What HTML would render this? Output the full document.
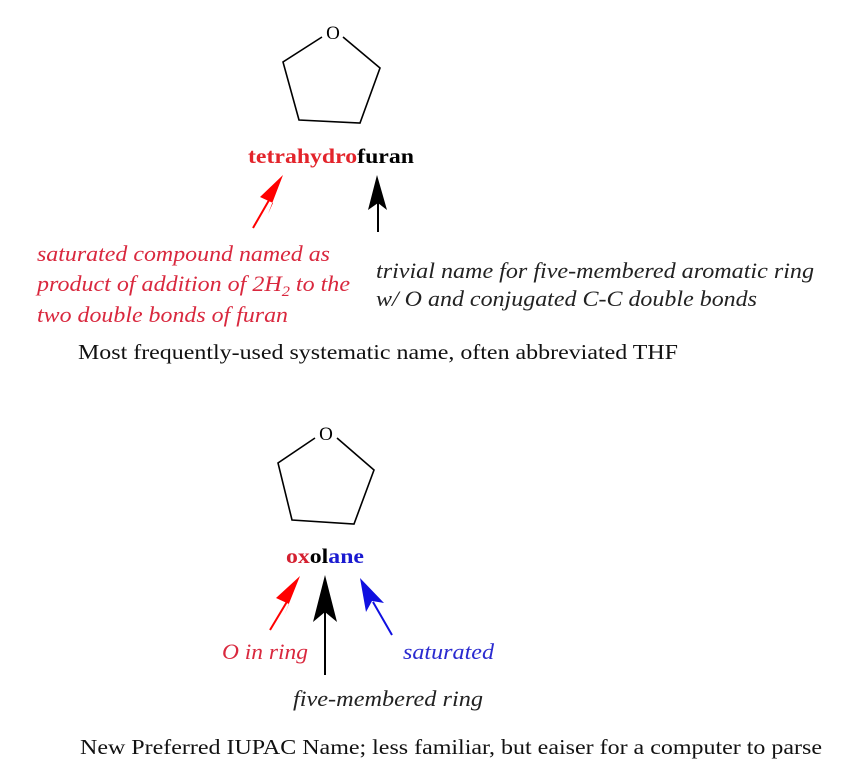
<!DOCTYPE html>
<html><head><meta charset="utf-8"><style>
html,body{margin:0;padding:0;background:#fff;width:861px;height:783px;overflow:hidden}
svg{display:block}
text{font-family:"Liberation Serif","Times New Roman",serif}
.it{font-style:italic;font-size:22px}
</style></head><body>
<svg width="861" height="783" viewBox="0 0 861 783" xmlns="http://www.w3.org/2000/svg">
<g fill="none" stroke="#000" stroke-width="1.6">
<polyline points="322,37 283,62 299,120 360,123 380,68 343,37"/>
<polyline points="315,438 278,463 292,520 354,524 374,470 337,438"/>
</g>
<text x="333" y="39" font-size="19" text-anchor="middle">O</text>
<text x="326" y="440" font-size="19" text-anchor="middle">O</text>

<text x="248" y="163" font-size="21" font-weight="bold" textLength="166" lengthAdjust="spacingAndGlyphs"><tspan fill="#e3242b">tetrahydro</tspan><tspan fill="#000">furan</tspan></text>
<text x="286" y="563" font-size="21" font-weight="bold" textLength="78" lengthAdjust="spacingAndGlyphs"><tspan fill="#d42030">ox</tspan><tspan fill="#000">ol</tspan><tspan fill="#1a1ad0">ane</tspan></text>

<line x1="253" y1="228" x2="272" y2="195" stroke="#f00" stroke-width="2"/>
<polygon points="283,175 260,197 273,203 268,214" fill="#f00"/>
<line x1="378" y1="232" x2="378" y2="200" stroke="#000" stroke-width="2"/>
<polygon points="377,175 368,210 378,203 387,210" fill="#000"/>

<line x1="270" y1="630" x2="288" y2="600" stroke="#f00" stroke-width="2"/>
<polygon points="300,576 276,598 289,604 284,616" fill="#f00"/>
<line x1="325" y1="675" x2="325" y2="600" stroke="#000" stroke-width="2"/>
<polygon points="325,575 313,622 325,612 337,622" fill="#000"/>
<line x1="392" y1="635" x2="373" y2="602" stroke="#1010e0" stroke-width="2"/>
<polygon points="360,578 366,612 372,601 384,603" fill="#1010e0"/>

<g class="it" fill="#d9283e">
<text x="37" y="261" textLength="293" lengthAdjust="spacingAndGlyphs">saturated compound named as</text>
<text x="37" y="291" textLength="313" lengthAdjust="spacingAndGlyphs">product of addition of 2H<tspan font-size="15" dy="5">2</tspan><tspan dy="-5"> to the</tspan></text>
<text x="37" y="322" textLength="251" lengthAdjust="spacingAndGlyphs">two double bonds of furan</text>
<text x="222" y="659" textLength="86" lengthAdjust="spacingAndGlyphs">O in ring</text>
</g>
<g class="it" fill="#222">
<text x="376" y="278" textLength="438" lengthAdjust="spacingAndGlyphs">trivial name for five-membered aromatic ring</text>
<text x="376" y="306" textLength="381" lengthAdjust="spacingAndGlyphs">w/ O and conjugated C-C double bonds</text>
<text x="293" y="706" textLength="190" lengthAdjust="spacingAndGlyphs">five-membered ring</text>
</g>
<text class="it" x="403" y="659" fill="#2a2ad0" textLength="91" lengthAdjust="spacingAndGlyphs">saturated</text>
<text x="78" y="359" font-size="21" fill="#111" textLength="600" lengthAdjust="spacingAndGlyphs">Most frequently-used systematic name, often abbreviated THF</text>
<text x="80" y="754" font-size="21" fill="#111" textLength="742" lengthAdjust="spacingAndGlyphs">New Preferred IUPAC Name; less familiar, but eaiser for a computer to parse</text>
</svg>
</body></html>
